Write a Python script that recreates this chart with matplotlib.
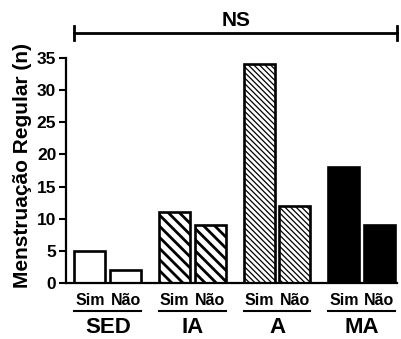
import matplotlib
matplotlib.use("Agg")
import matplotlib.pyplot as plt
from matplotlib.lines import Line2D

groups = ["SED", "IA", "A", "MA"]
sub_labels = ["Sim", "Não"]
sim_vals = [5, 11, 34, 18]
nao_vals = [2, 9, 12, 9]
yticks = [0, 5, 10, 15, 20, 25, 30, 35]
sig_text = "NS"

plt.rcParams['font.family'] = ['Liberation Sans', 'DejaVu Sans']
plt.rcParams['font.weight'] = 'bold'

fig = plt.figure(figsize=(4.01, 3.39), dpi=100)
ax = fig.add_axes([66/401, 1-283/339, (397-66)/401, 225/339])

spacing = 2.73
off = 0.573
w = 1.0
styles = [
    dict(facecolor='white', hatch=None, hlw=1.0),
    dict(facecolor='white', hatch='\\\\\\', hlw=2.0),
    dict(facecolor='white', hatch='\\\\\\\\\\\\', hlw=0.9),
    dict(facecolor='black', hatch=None, hlw=1.0),
]
for g, (s, n) in enumerate(zip(sim_vals, nao_vals)):
    st = styles[g]
    plt.rcParams['hatch.linewidth'] = st['hlw']
    c = g * spacing
    bars = ax.bar([c - off, c + off], [s, n], width=w, facecolor=st['facecolor'],
                  edgecolor='black', linewidth=1.9, hatch=st['hatch'], zorder=2)
    for b in bars:
        if hasattr(b, 'set_hatch_linewidth'):
            b.set_hatch_linewidth(st['hlw'])

xl = -1.347
xr = 9.33
ax.set_xlim(xl, xr)
ax.set_ylim(0, 35)
ax.set_yticks(yticks)
ax.set_xticks([])
for side in ['top', 'right']:
    ax.spines[side].set_visible(False)
for side in ['left', 'bottom']:
    ax.spines[side].set_linewidth(1.6)
ax.tick_params(axis='y', length=5, width=1.5, pad=2, labelsize=12.5)
for lab in ax.get_yticklabels():
    lab.set_fontweight('bold')

tr = ax.get_xaxis_transform()
for g, name in enumerate(groups):
    c = g * spacing
    for k, sl in enumerate(sub_labels):
        xpos = c - off if k == 0 else c + off
        ax.text(xpos, -0.078, sl, transform=tr, ha='center', va='center',
                fontsize=11.5, fontweight='bold', clip_on=False)
    ax.add_line(Line2D([c - off - 0.5, c + off + 0.5], [-0.124, -0.124], transform=tr,
                       color='black', linewidth=1.5, clip_on=False))
    ax.text(c, -0.198, name, transform=tr, ha='center', va='center',
            fontsize=16, fontweight='bold', clip_on=False)

# NS bracket
bx0 = -off - 0.5
bx1 = xr
yb = 1.111
ax.add_line(Line2D([bx0, bx1], [yb, yb], transform=tr, color='black', linewidth=2.0, clip_on=False))
for bx in (bx0, bx1):
    ax.add_line(Line2D([bx, bx], [yb - 0.03, yb + 0.03], transform=tr, color='black',
                       linewidth=2.0, clip_on=False))
ax.text((bx0 + bx1) / 2, yb + 0.012, sig_text, transform=tr, ha='center', va='bottom',
        fontsize=15, fontweight='bold', clip_on=False)

fig.text(23/401, 1-166/339, "Menstruação Regular (n)", rotation=90, ha='center', va='center',
         fontsize=15, fontweight='bold')

fig.savefig("out.png", dpi=100)
